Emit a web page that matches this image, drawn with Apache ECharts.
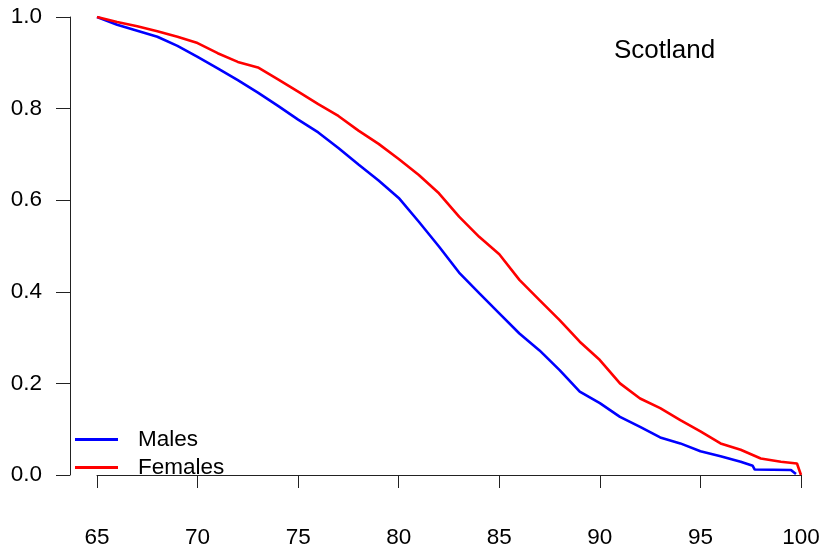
<!DOCTYPE html>
<html>
<head>
<meta charset="utf-8">
<script src="https://cdn.jsdelivr.net/npm/echarts@6/dist/echarts.min.js"></script>
<style>
html,body{margin:0;padding:0;background:#fff;}
#chart{width:825px;height:545px;}
</style>
</head>
<body>
<div id="chart"></div>
<script>
var maleAges = [65,66,67,68,69,70,71,72,73,74,75,76,77,78,79,80,81,82,83,84,85,86,87,88,89,90,91,92,93,94,95,96,97,97.6,97.7,99.5,99.75];
var maleSurv = [1.000,0.983,0.970,0.957,0.937,0.913,0.888,0.862,0.835,0.806,0.776,0.748,0.714,0.678,0.643,0.605,0.553,0.499,0.442,0.397,0.353,0.309,0.272,0.229,0.182,0.157,0.127,0.105,0.082,0.069,0.052,0.041,0.029,0.020,0.012,0.011,0.002];
var femaleAges = [65,66,67,68,69,70,71,72,73,74,75,76,77,78,79,80,81,82,83,84,85,86,87,88,89,90,91,92,93,94,95,96,97,98,99,99.8,100];
var femaleSurv = [1.000,0.989,0.980,0.969,0.957,0.943,0.921,0.902,0.890,0.864,0.837,0.810,0.784,0.752,0.723,0.690,0.655,0.615,0.564,0.520,0.482,0.426,0.382,0.338,0.291,0.251,0.200,0.167,0.146,0.120,0.095,0.069,0.055,0.036,0.029,0.025,0.000];
var xTicks = [65,70,75,80,85,90,95,100];
var yTicks = [0.0,0.2,0.4,0.6,0.8,1.0];
var seriesNames = ['Males','Females'];
var titleText = 'Scotland';

function zip(a,b){ return a.map(function(v,i){ return [v,b[i]]; }); }

var chart = echarts.init(document.getElementById('chart'), null, {renderer:'canvas'});
var font = 'Liberation Sans, Arial, Helvetica, sans-serif';
chart.setOption({
  animation:false,
  backgroundColor:'#ffffff',
  title:{
    text:titleText, left:609, top:33,
    textStyle:{fontFamily:font, fontSize:26, fontWeight:'normal', color:'#000'}
  },
  legend:{
    orient:'vertical', left:70, top:423,
    itemWidth:43, itemHeight:3, itemGap:5,
    icon:'rect',
    data:seriesNames,
    textStyle:{fontFamily:font, fontSize:22.5, color:'#000', lineHeight:23, padding:[0,0,0,15]}
  },
  grid:{left:97, right:24, top:17, bottom:70, containLabel:false, outerBoundsMode:'none'},
  xAxis:{
    type:'value', min:xTicks[0], max:xTicks[xTicks.length-1], interval:5,
    offset:18,
    axisLine:{show:true, lineStyle:{color:'#222', width:1}},
    axisTick:{show:true, length:13, lineStyle:{color:'#222', width:1}},
    axisLabel:{margin:33, fontFamily:font, fontSize:22.5, color:'#000',
      formatter:function(v){ return String(v); }},
    splitLine:{show:false}
  },
  yAxis:{
    type:'value', min:yTicks[0], max:yTicks[yTicks.length-1], interval:0.2,
    offset:27,
    axisLine:{show:true, lineStyle:{color:'#222', width:1}},
    axisTick:{show:true, length:14, lineStyle:{color:'#222', width:1}},
    axisLabel:{margin:28, fontFamily:font, fontSize:22.5, color:'#000',
      formatter:function(v){ return v.toFixed(1); }},
    splitLine:{show:false}
  },
  series:[
    {name:seriesNames[0], type:'line', data:zip(maleAges,maleSurv), showSymbol:false, symbol:'none',
     lineStyle:{color:'#0000ff', width:2.6}, itemStyle:{color:'#0000ff'}},
    {name:seriesNames[1], type:'line', data:zip(femaleAges,femaleSurv), showSymbol:false, symbol:'none',
     lineStyle:{color:'#ff0000', width:2.6}, itemStyle:{color:'#ff0000'}}
  ]
});
</script>
</body>
</html>
